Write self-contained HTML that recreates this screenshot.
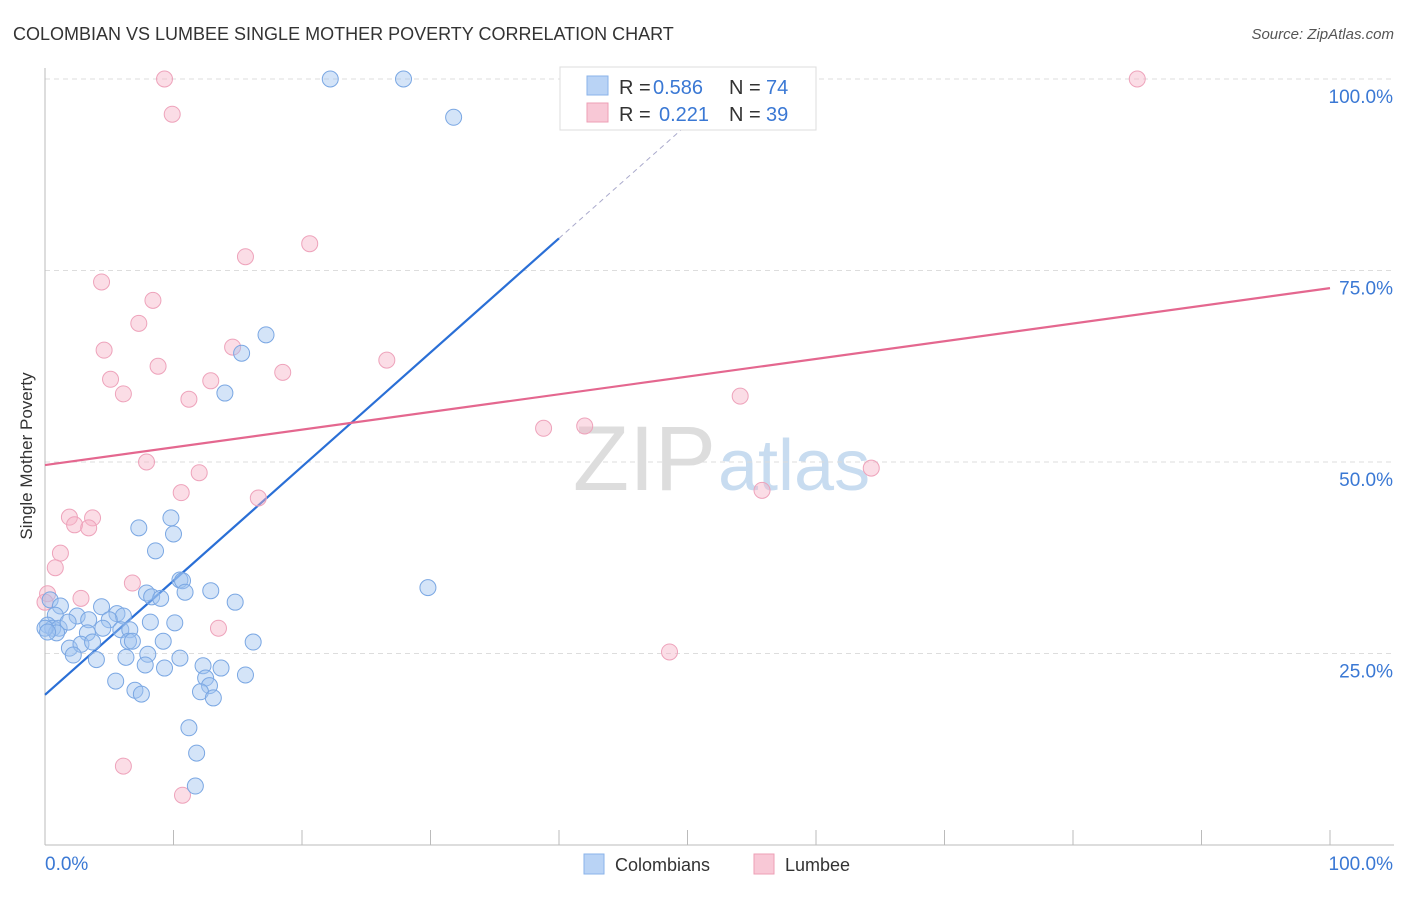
<!DOCTYPE html>
<html><head><meta charset="utf-8"><style>
body{margin:0;background:#fff;font-family:"Liberation Sans",sans-serif;}
svg text{font-family:"Liberation Sans",sans-serif;}
</style></head><body>
<svg id="chart" width="1406" height="892">
<text x="13" y="40" font-size="18" fill="#333">COLOMBIAN VS LUMBEE SINGLE MOTHER POVERTY CORRELATION CHART</text>
<text x="1394" y="39" font-size="15" fill="#555" font-style="italic" text-anchor="end">Source: ZipAtlas.com</text>
<text x="32" y="456" font-size="17" fill="#333" text-anchor="middle" transform="rotate(-90 32 456)">Single Mother Poverty</text>
<text x="716" y="490" font-size="92" fill="#ddd" text-anchor="end" font-family="Liberation Serif">ZIP</text>
<text x="718" y="490" font-size="72" fill="#c8dcf0">atlas</text>
<g id="grid"></g><g id="axes"></g><g id="lines"></g><g id="pts"></g>
<rect x="560" y="67" width="256" height="63" fill="#fff" stroke="#ddd"/>
<rect x="587" y="76" width="21" height="19" fill="#b9d3f5" stroke="#8ab3ea"/>
<rect x="587" y="103" width="21" height="19" fill="#f8c8d6" stroke="#ee9fb6"/>
<g font-size="20">
<text x="619" y="94" fill="#333">R =</text><text x="653" y="94" fill="#3a78d4">0.586</text>
<text x="729" y="94" fill="#333">N =</text><text x="766" y="94" fill="#3a78d4">74</text>
<text x="619" y="121" fill="#333">R =</text><text x="659" y="121" fill="#3a78d4">0.221</text>
<text x="729" y="121" fill="#333">N =</text><text x="766" y="121" fill="#3a78d4">39</text>
</g>
<rect x="584" y="854" width="20" height="20" fill="#b9d3f5" stroke="#8ab3ea"/>
<text x="615" y="871" font-size="18" fill="#333">Colombians</text>
<rect x="754" y="854" width="20" height="20" fill="#f8c8d6" stroke="#ee9fb6"/>
<text x="785" y="871" font-size="18" fill="#333">Lumbee</text>
</svg>
<script>
const blueX=[22.2,27.9,31.8,17.2,15.3,14.0,7.3,9.8,10.0,8.6,10.5,10.7,10.9,12.9,7.9,8.3,9.0,14.8,29.8,0.4,1.2,4.4,5.6,6.1,0.8,2.5,3.4,5.0,8.2,10.1,0.2,0.6,1.1,1.8,4.5,5.9,6.6,0.9,3.3,1.9,2.8,3.7,6.5,6.8,9.2,16.2,2.2,4.0,6.3,8.0,10.5,7.8,9.3,12.3,13.7,15.6,5.5,12.5,12.8,7.0,7.5,12.1,13.1,11.2,11.8,11.7,0,0.2];
const blueY=[100,100,95.0,66.6,64.2,59.0,41.4,42.7,40.6,38.4,34.6,34.5,33.0,33.2,32.9,32.4,32.2,31.7,33.6,32.0,31.2,31.1,30.2,29.9,30.0,29.9,29.4,29.4,29.1,29.0,28.7,28.3,28.3,29.1,28.3,28.1,28.1,27.7,27.7,25.7,26.2,26.5,26.6,26.6,26.6,26.5,24.8,24.2,24.5,24.9,24.4,23.5,23.1,23.4,23.1,22.2,21.4,21.8,20.8,20.2,19.7,20.0,19.2,15.3,12.0,7.7,28.3,27.8];
const pinkX=[9.3,85.0,9.9,20.6,15.6,4.4,8.4,7.3,14.6,4.6,26.6,8.8,18.5,5.1,12.9,6.1,11.2,54.1,38.8,42.0,7.9,64.3,12.0,10.6,55.8,16.6,1.9,3.7,2.3,3.4,1.2,0.8,6.8,2.8,0.2,0,13.5,48.6,6.1,10.7];
const pinkY=[100,100,95.4,78.5,76.8,73.5,71.1,68.1,65.0,64.6,63.3,62.5,61.7,60.8,60.6,58.9,58.2,58.6,54.4,54.7,50.0,49.2,48.6,46.0,46.3,45.3,42.8,42.7,41.8,41.4,38.1,36.2,34.2,32.2,32.8,31.7,28.3,25.2,10.3,6.5];
const yTicks=[25,50,75,100];
const yTickLabels=["25.0%","50.0%","75.0%","100.0%"];
const blueFit=[19.6,79.2]; // y at x=0, x=40
const pinkFit=[49.6,72.7]; // y at x=0, x=100
const NS="http://www.w3.org/2000/svg";
const X=v=>45+v*12.85, Y=v=>845-v*7.66;
function mk(p,t,a){const e=document.createElementNS(NS,t);for(const k in a)e.setAttribute(k,a[k]);document.getElementById(p).appendChild(e);return e;}
yTicks.forEach((t,i)=>{
 let l=mk('grid','line',{x1:45,x2:1394,y1:Y(t),y2:Y(t),stroke:'#ddd','stroke-dasharray':'5,4'});
 
 
 let tx=mk('grid','text',{x:1393,y:Y(t)+24,'font-size':19,fill:'#3a78d4','text-anchor':'end'});tx.textContent=yTickLabels[i];
 
 
});
let ax=mk('axes','line',{x1:45,x2:1394,y1:845,y2:845,stroke:'#bbb'});


let ay=mk('axes','line',{x1:45,x2:45,y1:68,y2:845,stroke:'#bbb'});


for(let i=1;i<=10;i++){let t=mk('axes','line',{x1:X(i*10),x2:X(i*10),y1:830,y2:845,stroke:'#bbb'});
 
 }
[[0,"0.0%",'start',45],[100,"100.0%",'end',1393]].forEach(d=>{let t=mk('axes','text',{x:d[3],y:870,'font-size':19,fill:'#3a78d4','text-anchor':d[2]});t.textContent=d[1];
 
 });
const bAt=x=>blueFit[0]+(blueFit[1]-blueFit[0])*x/40;
let bl=mk('lines','line',{x1:X(0),y1:Y(bAt(0)),x2:X(40),y2:Y(bAt(40)),stroke:'#2a6fd6','stroke-width':2.2});


let bd=mk('lines','line',{x1:X(40),y1:Y(bAt(40)),x2:X(53),y2:Y(bAt(53)),stroke:'#aac','stroke-width':1,'stroke-dasharray':'5,4'});


let pl=mk('lines','line',{x1:X(0),y1:Y(pinkFit[0]),x2:X(100),y2:Y(pinkFit[1]),stroke:'#e4678f','stroke-width':2.2});


pinkX.forEach((x,i)=>{let c=mk('pts','circle',{cx:X(x),cy:Y(pinkY[i]),r:8,fill:'rgba(246,180,200,0.45)',stroke:'#eea3bb'});
 
 });
blueX.forEach((x,i)=>{let c=mk('pts','circle',{cx:X(x),cy:Y(blueY[i]),r:8,fill:'rgba(160,196,240,0.45)',stroke:'#7aa7e3'});
 
 });
</script>
</body></html>
